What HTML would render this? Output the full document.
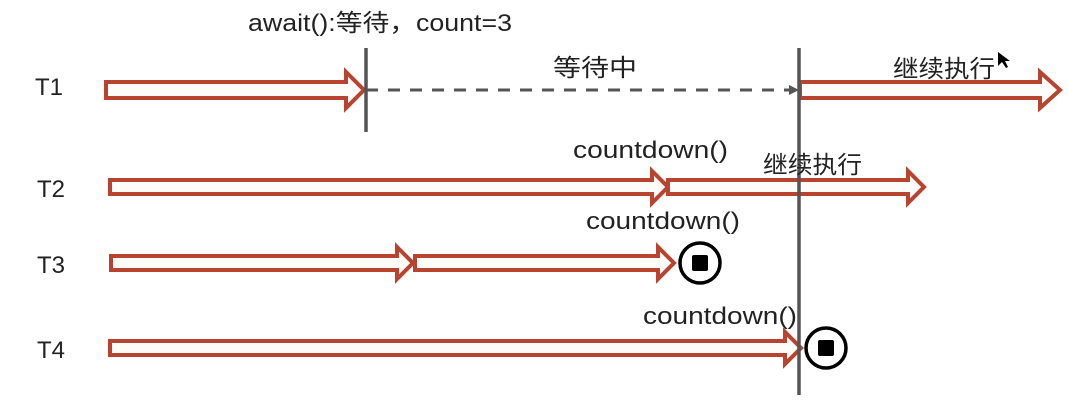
<!DOCTYPE html>
<html><head><meta charset="utf-8"><style>
html,body{margin:0;padding:0;background:#fff;}
svg{display:block;}
text{font-family:"Liberation Sans","Noto Sans CJK SC",sans-serif;font-size:24px;fill:#222;}
</style></head><body>
<svg width="1068" height="404" viewBox="0 0 1068 404" xmlns="http://www.w3.org/2000/svg">
<defs>
<marker id="ah" markerWidth="10" markerHeight="10" refX="9" refY="5" orient="auto" markerUnits="userSpaceOnUse"><path d="M0,0 L10,5 L0,10 Z" fill="#555"/></marker>
</defs>
<g fill="#fdfcf9" stroke="#b8432e" stroke-width="4" stroke-linejoin="miter">
<path d="M106,82 H346 V72 L364,90 L346,108 V98 H106 Z"/>
<path d="M800,82 H1040 V72 L1060,90 L1040,108 V98 H800 Z"/>
<path d="M110,180 H652 V171 L668,187 L652,203 V194 H110 Z"/>
<path d="M668,180 H908 V171 L924,187 L908,203 V194 H668 Z"/>
<path d="M111,256 H397 V247 L413,263 L397,279 V270 H111 Z"/>
<path d="M415,256 H658 V247 L674,263 L658,279 V270 H415 Z"/>
<path d="M110,341 H785 V332 L801,348 L785,364 V355 H110 Z"/>
</g>
<line x1="366" y1="90" x2="798" y2="90" stroke="#555" stroke-width="3" stroke-dasharray="12,10" marker-end="url(#ah)"/>
<line x1="366" y1="48" x2="366" y2="132" stroke="#555" stroke-width="3.5"/>
<line x1="799" y1="48" x2="799" y2="395" stroke="#555" stroke-width="3.5"/>
<circle cx="700" cy="263" r="20" fill="#fff" stroke="#000" stroke-width="3.5"/>
<rect x="692" y="255" width="16" height="16" rx="2" fill="#000"/>
<circle cx="826" cy="348" r="20" fill="#fff" stroke="#000" stroke-width="3.5"/>
<rect x="818" y="340" width="16" height="16" rx="2" fill="#000"/>
<text x="35" y="95">T1</text>
<text x="37" y="197">T2</text>
<text x="37" y="273">T3</text>
<text x="37" y="358">T4</text>
<text x="248" y="31" textLength="264" lengthAdjust="spacingAndGlyphs">await():等待，count=3</text>
<text x="553" y="76" textLength="84" lengthAdjust="spacingAndGlyphs">等待中</text>
<text x="893" y="77" textLength="102" lengthAdjust="spacingAndGlyphs">继续执行</text>
<text x="573" y="158" textLength="155" lengthAdjust="spacingAndGlyphs">countdown()</text>
<text x="763" y="173" textLength="99" lengthAdjust="spacingAndGlyphs">继续执行</text>
<text x="586" y="229" textLength="154" lengthAdjust="spacingAndGlyphs">countdown()</text>
<text x="643" y="324" textLength="154" lengthAdjust="spacingAndGlyphs">countdown()</text>
<path d="M998,52 L998,66 L1002,62 L1006,68 L1008,67 L1005,61 L1010,61 Z" fill="#000"/>
</svg>
</body></html>
